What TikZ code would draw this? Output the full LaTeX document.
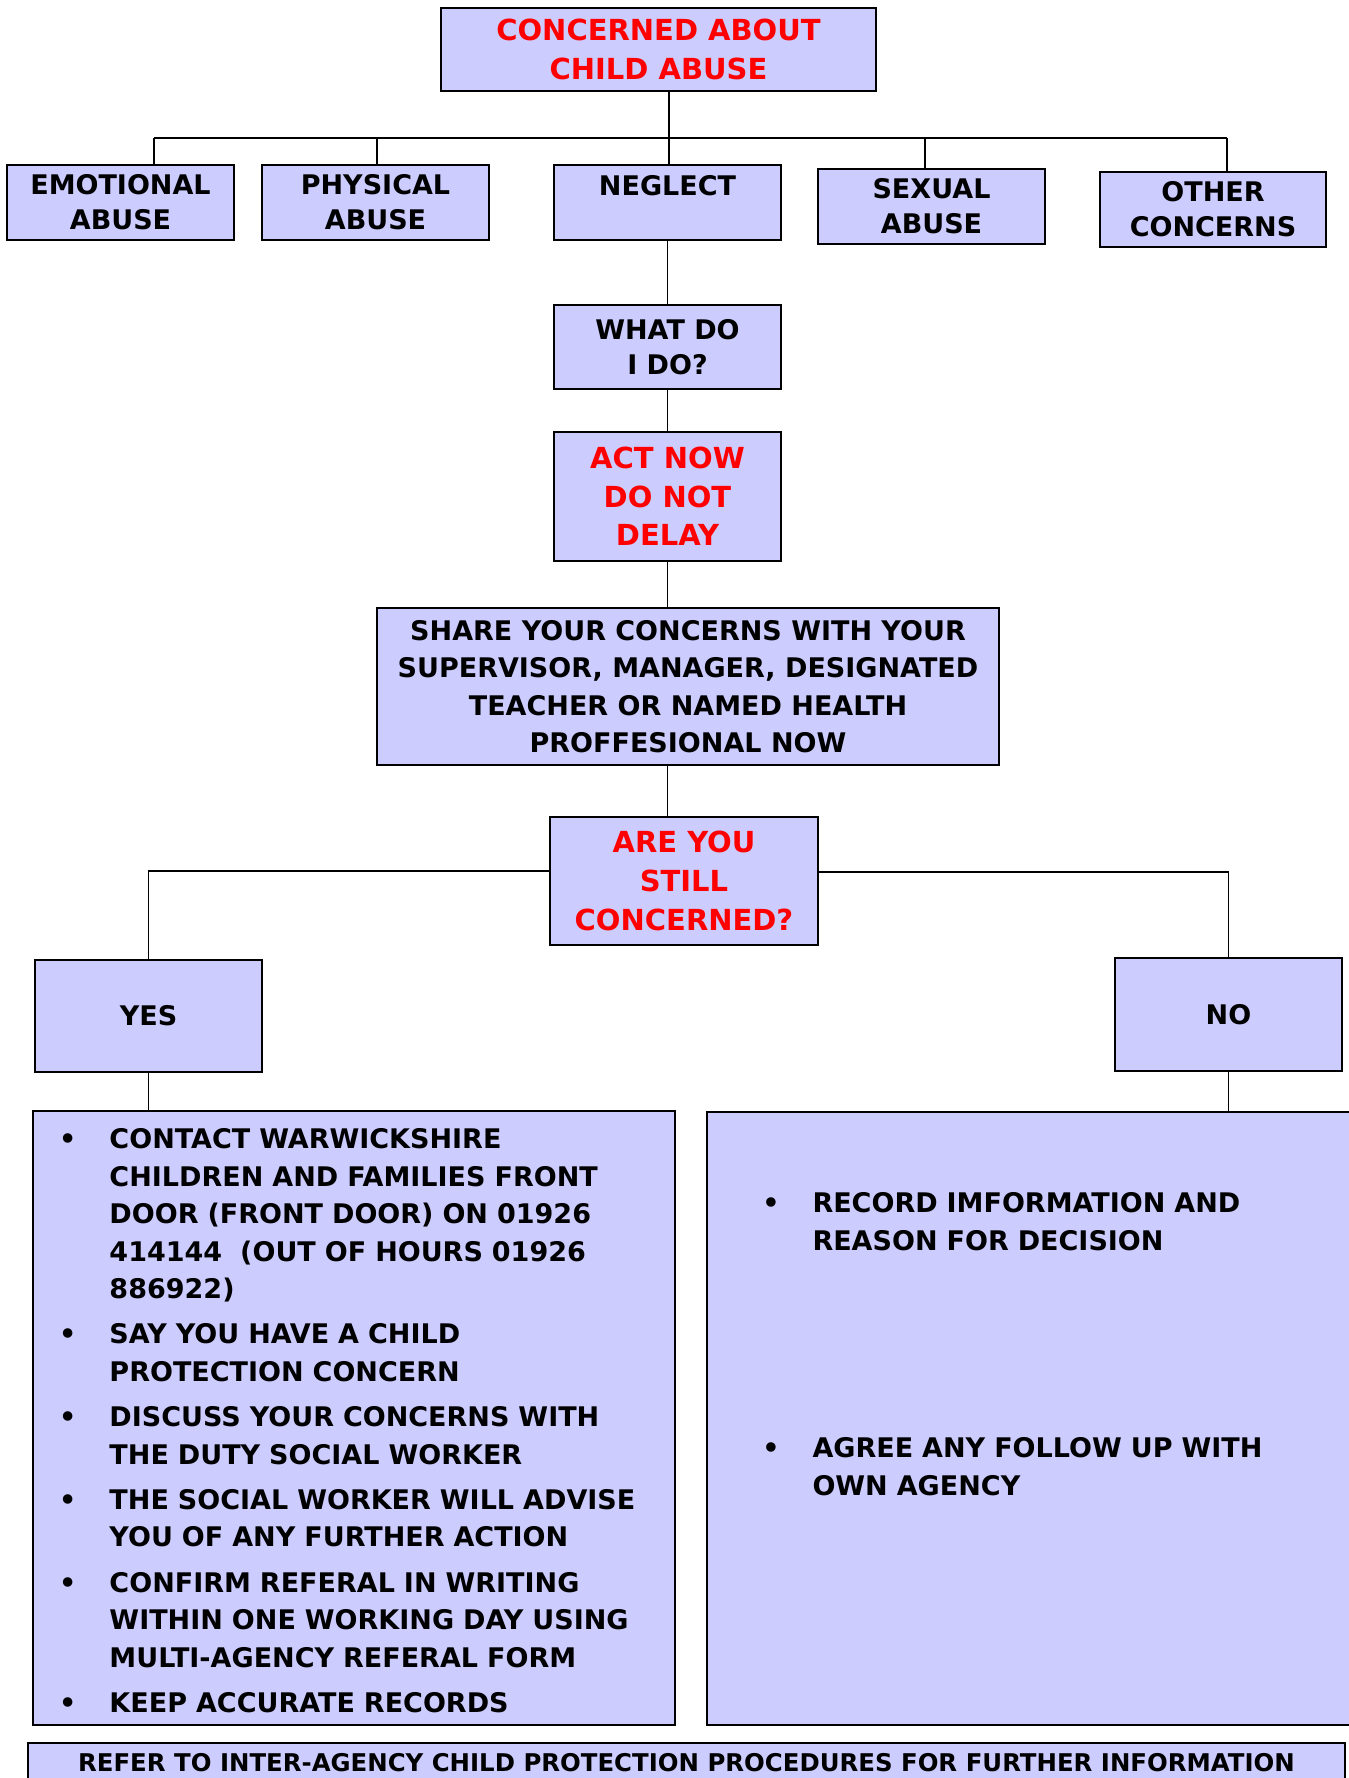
\documentclass[tikz,border=0pt]{standalone}
\usepackage{fontspec}
\setmainfont{DejaVu Sans}
\usepackage{tikz}
\usetikzlibrary{positioning, calc}

\definecolor{boxfill}{RGB}{204,204,255}

% bullet list used inside the two answer boxes
\newenvironment{steplist}[1]{%
  \begin{list}{\textbullet}{%
    \setlength{\leftmargin}{38.5pt}%
    \setlength{\labelwidth}{10pt}%
    \setlength{\labelsep}{16.5pt}%
    \setlength{\itemsep}{#1}%
    \setlength{\topsep}{0pt}%
    \setlength{\partopsep}{0pt}%
    \setlength{\parsep}{0pt}%
    \setlength{\itemindent}{0pt}}\raggedright}%
  {\end{list}}

\begin{document}
\begin{tikzpicture}[
  x=0.5pt, y=-0.5pt,
  headbox/.style = {draw, line width=0.9pt, fill=boxfill, inner sep=0pt, align=center,
                    font=\bfseries\fontsize{13.5}{17.5}\selectfont},
  alertbox/.style = {headbox, text=red, font=\bfseries\fontsize{14.5}{19.3}\selectfont},
  answerbox/.style = {draw, line width=0.9pt, fill=boxfill, inner sep=0pt},
  answertext/.style = {anchor=north west, inner sep=0pt, text width=320pt,
                       font=\bfseries\fontsize{13.5}{18.7}\selectfont},
  link/.style = {line width=0.75pt},
  bus/.style = {line width=1.1pt}
]

\useasboundingbox (0,0) rectangle (1349,1778);

% Top and the five kinds of concern
\node[alertbox, minimum width=217.5pt, minimum height=41.5pt] (top) at (658.5,49.5)
  {CONCERNED ABOUT\\CHILD ABUSE};
\node[headbox, minimum width=113.5pt, minimum height=37.5pt] (emo) at (120.5,202.5)
  {EMOTIONAL\\ABUSE};
\node[headbox, minimum width=113.5pt, minimum height=37.5pt] (phys) at (375.5,202.5)
  {PHYSICAL\\ABUSE};
\node[headbox, minimum width=113.5pt, minimum height=37.5pt] (neglect) at (667.5,202.5)
  {NEGLECT\\\phantom{N}};
\node[headbox, minimum width=113.5pt, minimum height=37.5pt] (sexual) at (931.5,206.5)
  {SEXUAL\\ABUSE};
\node[headbox, minimum width=113pt, minimum height=37.5pt] (other) at (1213,209.5)
  {OTHER\\CONCERNS};

% Middle column
\node[headbox, minimum width=113.5pt, minimum height=42pt] (what) at (667.5,347)
  {WHAT DO\\I DO?};
\node[alertbox, minimum width=113.5pt, minimum height=64.5pt] (act) at (667.5,496.5)
  {ACT NOW\\DO NOT\\DELAY};
\node[headbox, minimum width=311pt, minimum height=78.5pt,
      font=\bfseries\fontsize{13.5}{18.7}\selectfont] (share) at (688,686.5)
  {SHARE YOUR CONCERNS WITH YOUR\\SUPERVISOR, MANAGER, DESIGNATED\\
   TEACHER OR NAMED HEALTH\\PROFFESIONAL NOW};
\node[alertbox, minimum width=134pt, minimum height=64pt] (still) at (684,881)
  {ARE YOU\\STILL\\CONCERNED?};

% Yes / No
\node[headbox, minimum width=113.5pt, minimum height=56pt] (yes) at (148.5,1016) {YES};
\node[headbox, minimum width=113.5pt, minimum height=56.5pt] (no) at (1228.5,1014.5) {NO};

% Answer boxes
\node[answerbox, minimum width=321pt, minimum height=307pt] (yesbox) at (354,1418) {};
\node[answerbox, minimum width=322.5pt, minimum height=306.5pt] (nobox) at (1029.5,1418.5) {};

\node[answertext] (yestext) at ([yshift=-0.5pt]yesbox.north west) {%
  \begin{steplist}{4pt}
  \item CONTACT WARWICKSHIRE\\CHILDREN AND FAMILIES FRONT\\DOOR (FRONT DOOR) ON 01926\\
        414144\ \ (OUT OF HOURS 01926\\886922)
  \item SAY YOU HAVE A CHILD\\PROTECTION CONCERN
  \item DISCUSS YOUR CONCERNS WITH\\THE DUTY SOCIAL WORKER
  \item THE SOCIAL WORKER WILL ADVISE\\YOU OF ANY FURTHER ACTION
  \item CONFIRM REFERAL IN WRITING\\WITHIN ONE WORKING DAY USING\\MULTI-AGENCY REFERAL FORM
  \item KEEP ACCURATE RECORDS
  \end{steplist}};

\node[answertext] (notext) at ([xshift=14.5pt, yshift=-32pt]nobox.north west) {%
  \begin{steplist}{85pt}
  \item RECORD IMFORMATION AND\\REASON FOR DECISION
  \item AGREE ANY FOLLOW UP WITH\\OWN AGENCY
  \end{steplist}};

% Footer
\node[headbox, minimum width=658.5pt, minimum height=20pt,
      font=\bfseries\fontsize{12.2}{15}\selectfont] (refer) at (686.5,1763)
  {REFER TO INTER-AGENCY CHILD PROTECTION PROCEDURES FOR FURTHER INFORMATION};

% Connectors
\coordinate (hub) at (669,138);
\draw[link] (top.south -| hub) -- (hub);
\foreach \nd/\xx in {emo/154, phys/377, neglect/669, sexual/925, other/1227}{
  \coordinate (drop-\nd) at (\xx,138);
  \draw[link] (drop-\nd) -- (drop-\nd |- \nd.north);
}
\draw[bus] (drop-emo) -- (drop-other);

\draw[link] (neglect) -- (what);
\draw[link] (what) -- (act);
\draw[link] (act.south) -- (act.south |- share.north);
\draw[link] (share.south -| act) -- (still.north -| act);

\draw[link] ([yshift=5pt]still.west) -| (yes.north);
\draw[link] ([yshift=4.5pt]still.east) -| (no.north);
\draw[link] (yes.south) -- (yes.south |- yesbox.north);
\draw[link] (no.south) -- (no.south |- nobox.north);

\end{tikzpicture}
\end{document}
